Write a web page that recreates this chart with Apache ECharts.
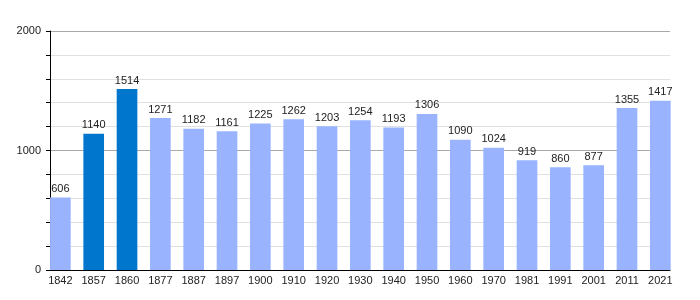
<!DOCTYPE html>
<html><head><meta charset="utf-8">
<script src="https://cdn.jsdelivr.net/npm/echarts@6/dist/echarts.min.js"></script>
<style>html,body{margin:0;padding:0;background:#fff}#c{width:700px;height:300px}</style>
</head><body><div id="c"></div>
<script>
const years = ['1842','1857','1860','1877','1887','1897','1900','1910','1920','1930','1940','1950','1960','1970','1981','1991','2001','2011','2021'];
const population = [606,1140,1514,1271,1182,1161,1225,1262,1203,1254,1193,1306,1090,1024,919,860,877,1355,1417];
const highlighted = ['1857','1860'];
const yTicks = [0,1000,2000];

const lightColor = '#99b3ff';
const darkColor = '#0077cc';
const font = 'Liberation Sans, Arial, sans-serif';

const chart = echarts.init(document.getElementById('c'), null, {renderer:'canvas'});
chart.setOption({
  animation:false,
  grid:[
    {left:50, right:30, top:31, bottom:30},
    {left:43.7, width:633.3, top:31, bottom:30}
  ],
  xAxis:[
    {gridIndex:0, type:'value', min:0, max:1, z:5,
      axisLine:{show:true, lineStyle:{color:'#000', width:1}},
      axisTick:{show:false}, axisLabel:{show:false}, splitLine:{show:false}},
    {gridIndex:1, type:'category', data:years,
      axisLine:{show:false}, axisTick:{show:false},
      axisLabel:{color:'#222', fontSize:11, fontFamily:font, margin:5, interval:0}}
  ],
  yAxis:[
    {gridIndex:0, type:'value', min:0, max:2000, interval:200,
      axisLine:{show:true, lineStyle:{color:'#000', width:1}},
      axisTick:{show:true, length:4, lineStyle:{color:'#000'}},
      axisLabel:{color:'#222', fontSize:11, fontFamily:font, margin:9,
        formatter:v => yTicks.includes(v) ? String(v) : ''},
      splitLine:{show:true, lineStyle:{color:['#aaa','#e0e0e0','#e0e0e0','#e0e0e0','#e0e0e0'], width:1}}},
    {gridIndex:1, type:'value', min:0, max:2000, show:false}
  ],
  series:[{
    type:'bar', xAxisIndex:1, yAxisIndex:1,
    barWidth:'62%',
    data: population.map((v,i)=>({value:v, itemStyle:{color: highlighted.includes(years[i]) ? darkColor : lightColor}})),
    label:{show:true, position:'top', distance:3, color:'#222', fontSize:11, fontFamily:font}
  }]
});
</script></body></html>
